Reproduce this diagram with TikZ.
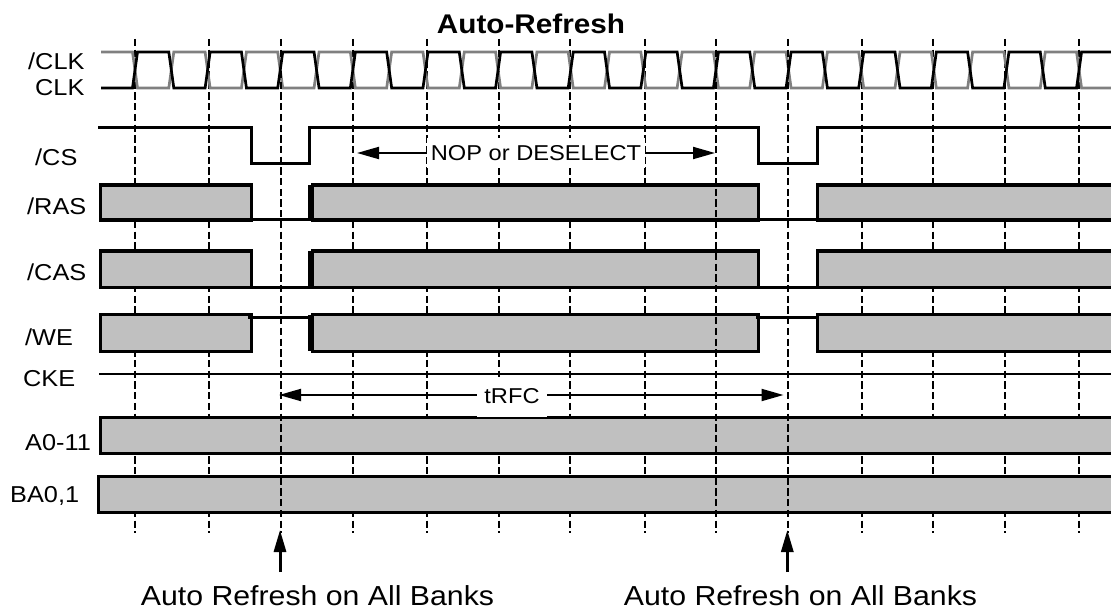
\documentclass[tikz,border=0pt]{standalone}
\usepackage{fontspec}
\setmainfont[FakeStretch=1.1]{Liberation Sans}
\usetikzlibrary{arrows.meta}
\definecolor{boxgray}{RGB}{192,192,192}
\definecolor{clkgray}{RGB}{128,128,128}
\begin{document}
\begin{tikzpicture}[x=1pt,y=-1pt,
  sig/.style={line width=3pt, line join=miter},
  clkline/.style={line width=2.7pt, line join=miter},
  busfill/.style={fill=boxgray},
  busedge/.style={draw=black, line width=3.2pt, line join=miter},
  gridline/.style={line width=2pt, dash pattern=on 7.3pt off 3.4pt},
  lbl/.style={font=\fontsize{23}{26}\selectfont, inner sep=0pt, anchor=base west},
  big/.style={font=\fontsize{27.5}{30}\selectfont, inner sep=0pt, anchor=base},
  ann/.style={-{Triangle[length=22pt,width=12pt]}, line width=2pt},
  upann/.style={-{Triangle[length=22pt,width=12pt]}, line width=3pt},
  midtext/.style={fill=white, font=\fontsize{21.5}{24}\selectfont, inner ysep=0pt, minimum height=#1},
]
\useasboundingbox (0,0) rectangle (1111,612);
\begin{scope}
\clip (0,0) rectangle (1111,612);

% title
\node[big, font=\fontsize{27}{30}\selectfont\bfseries] (title) at (531,34) {Auto-Refresh};

% signal labels
\node[lbl] (lclkn) at (28,70) {/CLK};
\node[lbl] (lclk)  at (35,96) {CLK};
\node[lbl] (lcs)   at (35,165.7) {/CS};
\node[lbl] (lras)  at (27,214.3) {/RAS};
\node[lbl] (lcas)  at (27,280.7) {/CAS};
\node[lbl] (lwe)   at (25,345) {/WE};
\node[lbl] (lcke)  at (23,386) {CKE};
\node[lbl] (laddr) at (25,450.7) {A0-11};
\node[lbl] (lba)   at (10,502.7) {BA0,1};

% grid lines drawn below the buses
\foreach \x in {135,209,353,427,499,570,645,862,933,1005,1079}
  \draw[gridline] (\x,39) -- (\x,533);

% clocks
\draw[clkline, clkgray] (101,52)
  foreach \k in {0,2,...,26} {
    -- ({135+36.31*\k-2.5},52) -- ({135+36.31*\k+2.5},88)
    -- ({135+36.31*(\k+1)-2.5},88) -- ({135+36.31*(\k+1)+2.5},52)
  };
\draw[clkline] (101,88)
  foreach \k in {0,2,...,26} {
    -- ({135+36.31*\k-2.5},88) -- ({135+36.31*\k+2.5},52)
    -- ({135+36.31*(\k+1)-2.5},52) -- ({135+36.31*(\k+1)+2.5},88)
  };

% /CS
\draw[sig] (98.3,127.7) -- (251.2,127.7) -- (251.2,163.3) -- (309.2,163.3)
  -- (309.2,127.7) -- (758.3,127.7) -- (758.3,163.3) -- (817,163.3)
  -- (817,127.7) -- (1115,127.7);

% /RAS
\fill[busfill] (100.7,185) rectangle (251.3,220);
\draw[busedge] (100.7,185) rectangle (251.3,220);
\draw[sig] (251.3,220) -- (309.3,220) -- (309.3,185);
\fill[busfill] (312.3,185) rectangle (758.5,220);
\draw[busedge] (312.3,185) rectangle (758.5,220);
\draw[sig] (758.5,220) -- (817.3,220);
\fill[busfill] (817.3,185) rectangle (1115,220);
\draw[busedge] (1115,185) -- (817.3,185) -- (817.3,220) -- (1115,220);

% /CAS
\fill[busfill] (100.7,251) rectangle (251.3,287.3);
\draw[busedge] (100.7,251) rectangle (251.3,287.3);
\draw[sig] (251.3,287.3) -- (309.3,287.3) -- (309.3,251);
\fill[busfill] (312.3,251) rectangle (758.5,287.3);
\draw[busedge] (312.3,251) rectangle (758.5,287.3);
\draw[sig] (758.5,287.3) -- (817.3,287.3);
\fill[busfill] (817.3,251) rectangle (1115,287.3);
\draw[busedge] (1115,251) -- (817.3,251) -- (817.3,287.3) -- (1115,287.3);

% /WE
\fill[busfill] (100.7,314.7) rectangle (251.3,351.3);
\draw[busedge] (100.7,314.7) rectangle (251.3,351.3);
\draw[sig] (248.3,317.8) -- (309.3,317.8);
\draw[sig] (309.3,314.7) -- (309.3,351.3);
\fill[busfill] (312.3,314.7) rectangle (758.5,351.3);
\draw[busedge] (312.3,314.7) rectangle (758.5,351.3);
\draw[sig] (756,317.8) -- (817.3,317.8);
\fill[busfill] (817.3,314.7) rectangle (1115,351.3);
\draw[busedge] (1115,314.7) -- (817.3,314.7) -- (817.3,351.3) -- (1115,351.3);

% CKE
\draw[line width=2pt] (99,374) -- (1115,374);

% A0-11
\fill[busfill] (100.7,417.3) rectangle (1115,453.3);
\draw[busedge] (1115,417.3) -- (100.7,417.3) -- (100.7,453.3) -- (1115,453.3);

% BA0,1
\fill[busfill] (98.7,476.3) rectangle (1115,512.8);
\draw[busedge] (1115,476.3) -- (98.7,476.3) -- (98.7,512.8) -- (1115,512.8);

% grid lines drawn above the buses
\foreach \x in {281,716,788}
  \draw[gridline] (\x,39) -- (\x,533);

% NOP or DESELECT
\node[midtext=30pt, inner xsep=4pt] (nop) at (536,153) {NOP or DESELECT};
\coordinate (nopL) at (357,153);
\coordinate (nopR) at (715,153);
\draw[ann] (nop.west) -- (nopL);
\draw[ann] (nop.east) -- (nopR);

% tRFC
\node[midtext=40pt, inner xsep=7.5pt] (trfc) at (512,396.5) {tRFC};
\coordinate (tL) at (279,395);
\coordinate (tR) at (783.5,395);
\draw[ann] (trfc.west |- tL) -- (tL);
\draw[ann] (trfc.east |- tR) -- (tR);

% Auto refresh markers
\node[big] (ar1) at (317.5,605.5) {Auto Refresh on All Banks};
\node[big] (ar2) at (800.5,605.5) {Auto Refresh on All Banks};
\coordinate (ar1tail) at (280,572);
\coordinate (ar1tip) at (280,530);
\coordinate (ar2tail) at (787.3,572);
\coordinate (ar2tip) at (787.3,530);
\draw[upann] (ar1tail) -- (ar1tip);
\draw[upann] (ar2tail) -- (ar2tip);
\end{scope}
\end{tikzpicture}
\end{document}
